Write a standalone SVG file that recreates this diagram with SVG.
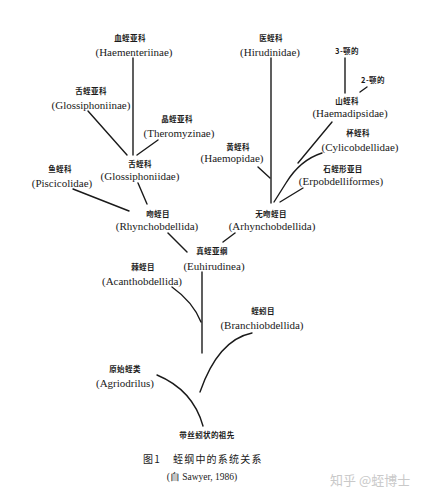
<svg xmlns="http://www.w3.org/2000/svg" width="425" height="501" viewBox="0 0 425 501">
<style>
.zh{font-family:"Noto Sans CJK SC","Noto Sans CJK TC",sans-serif;font-size:7.5px;font-weight:700;fill:#1a1a1a;text-anchor:middle;letter-spacing:0.4px}
.la{font-family:"Liberation Serif","DejaVu Serif",serif;font-size:11px;fill:#1a1a1a;text-anchor:middle}
.ln{fill:none;stroke:#1a1a1a;stroke-width:1.4;stroke-linecap:round}
.cap{font-family:"Noto Sans CJK SC",sans-serif;font-size:10px;fill:#1a1a1a;letter-spacing:1.2px}
.wm{font-family:"Noto Sans CJK SC",sans-serif;font-size:13px;fill:#c9c9c9}
</style>
<rect width="425" height="501" fill="#ffffff"/>
<g id="connectors">
<path class="ln" d="M133 58 L133 155"/>
<path class="ln" d="M88 111 L127 155"/>
<path class="ln" d="M158 140 L137 155"/>
<path class="ln" d="M138 183 L147 204"/>
<path class="ln" d="M73 189 L129 211"/>
<path class="ln" d="M168 233 L187 252"/>
<path class="ln" d="M202 272 L202 353"/>
<path class="ln" d="M172 287 Q193 302 201 322"/>
<path class="ln" d="M235 233 L223 242"/>
<path class="ln" d="M271 58 L271 203"/>
<path class="ln" d="M258 167 L270 178"/>
<path class="ln" d="M332 122 L298 163"/>
<path class="ln" d="M322 153 Q300 160 286 183 L274 202"/>
<path class="ln" d="M303 188 L280 202"/>
<path class="ln" d="M345 58 L345 93"/>
<path class="ln" d="M367 87 L360 92"/>
<path class="ln" d="M252 333 Q218 340 200 392"/>
<path class="ln" d="M157 375 Q193 390 203 426"/>
</g>
<g id="n-haementeriinae"><text class="zh" x="130" y="41">血蛭亚科</text><text class="la" x="134" y="56">(Haementeriinae)</text></g>
<g id="n-glossiphoniinae"><text class="zh" x="91" y="94">舌蛭亚科</text><text class="la" x="91" y="109">(Glossiphoniinae)</text></g>
<g id="n-theromyzinae"><text class="zh" x="177" y="122">晶蛭亚科</text><text class="la" x="179" y="137">(Theromyzinae)</text></g>
<g id="n-glossiphoniidae"><text class="zh" x="140" y="167">舌蛭科</text><text class="la" x="140" y="180">(Glossiphoniidae)</text></g>
<g id="n-piscicolidae"><text class="zh" x="60" y="172">鱼蛭科</text><text class="la" x="62" y="187">(Piscicolidae)</text></g>
<g id="n-rhynchobdellida"><text class="zh" x="158" y="217">吻蛭目</text><text class="la" x="157" y="230">(Rhynchobdellida)</text></g>
<g id="n-euhirudinea"><text class="zh" x="212" y="254">真蛭亚纲</text><text class="la" x="214" y="270">(Euhirudinea)</text></g>
<g id="n-acanthobdellida"><text class="zh" x="143" y="270">棘蛭目</text><text class="la" x="142" y="285">(Acanthobdellida)</text></g>
<g id="n-hirudinidae"><text class="zh" x="271" y="41">医蛭科</text><text class="la" x="270" y="56">(Hirudinidae)</text></g>
<g id="n-3jaw"><text class="zh" x="347" y="54">3-颚的</text></g>
<g id="n-2jaw"><text class="zh" x="373" y="83">2-颚的</text></g>
<g id="n-haemadipsidae"><text class="zh" x="347" y="104">山蛭科</text><text class="la" x="350" y="117">(Haemadipsidae)</text></g>
<g id="n-cylicobdellidae"><text class="zh" x="358" y="136">杯蛭科</text><text class="la" x="360" y="151">(Cylicobdellidae)</text></g>
<g id="n-haemopidae"><text class="zh" x="238" y="150">黄蛭科</text><text class="la" x="232" y="162">(Haemopidae)</text></g>
<g id="n-erpobdelliformes"><text class="zh" x="343" y="172">石蛭形亚目</text><text class="la" x="341" y="185">(Erpobdelliformes)</text></g>
<g id="n-arhynchobdellida"><text class="zh" x="271" y="217">无吻蛭目</text><text class="la" x="272" y="230">(Arhynchobdellida)</text></g>
<g id="n-branchiobdellida"><text class="zh" x="263" y="314">蛭蚓目</text><text class="la" x="262" y="329">(Branchiobdellida)</text></g>
<g id="n-agriodrilus"><text class="zh" x="125" y="372">原始蛭类</text><text class="la" x="125" y="387">(Agriodrilus)</text></g>
<g id="n-ancestor"><text class="zh" x="207" y="438">带丝蚓状的祖先</text></g>
<g id="caption">
<text class="cap" y="463"><tspan x="143">图1</tspan><tspan x="173">蛭纲中的系统关系</tspan></text>
<text class="la" style="font-size:9.5px" x="202" y="480">(自 Sawyer, 1986)</text>
</g>
<text class="wm" x="330" y="485">知乎 @蛭博士</text>
</svg>
